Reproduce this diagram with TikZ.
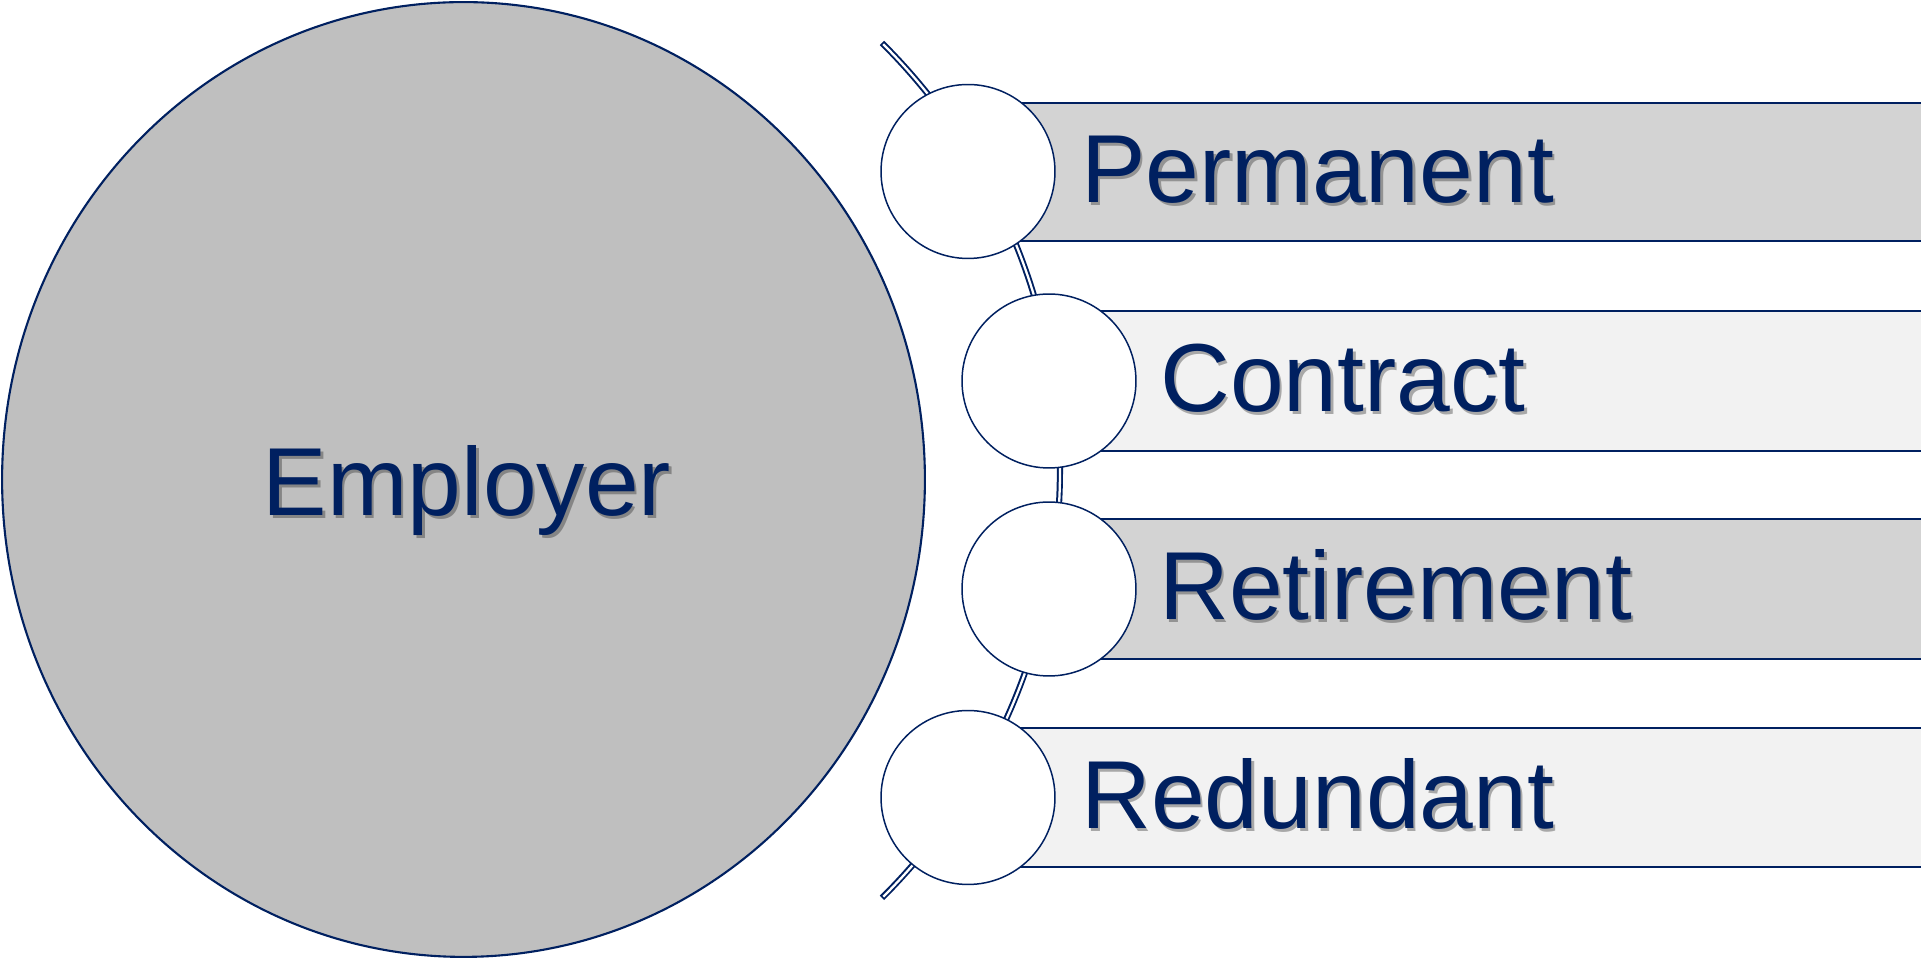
\documentclass[tikz,border=0pt]{standalone}
\usepackage{fontspec}
\setmainfont{Liberation Sans}
\usetikzlibrary{shapes.geometric,calc}
\definecolor{navy}{HTML}{002060}
\definecolor{bigfill}{HTML}{BFBFBF}
\definecolor{barA}{HTML}{D3D3D3}
\definecolor{barB}{HTML}{F2F2F2}
\begin{document}
\begin{tikzpicture}[x=0.02cm,y=0.02cm,
  lbl/.style={font=\fontsize{55}{60}\selectfont, text=navy, inner sep=0pt},
  shd/.style={font=\fontsize{55}{60}\selectfont, text=black, opacity=0.3, inner sep=0pt},
  barline/.style={draw=navy, line width=1.2pt},
  smallc/.style={circle, draw=navy, fill=white, line width=0.85pt, inner sep=0pt, minimum size=3.48cm},
]
\useasboundingbox (0,0) rectangle (1921,959);
% big ellipse
\node[ellipse, draw=navy, fill=bigfill, line width=1.2pt, minimum width=18.46cm, minimum height=19.1cm, inner sep=0pt] (emp) at (463.5,479.5) {};
% arc (closed double line)
\coordinate (aC) at (457.6,488.5);
\coordinate (aT) at (882,916);
\coordinate (aT2) at ($(aC)+(45.04:602.4)$);
\draw[navy, line width=3.5pt] (aT) arc[start angle=45.2, end angle=-45.2, radius=602.4];
\draw[white, line width=1.3pt] (aT2) arc[start angle=45.04, end angle=-45.04, radius=602.4];
% bars
\fill[barA] (968,718) rectangle (1921,856);
\draw[barline] (968,856) -- (1921,856) (968,718) -- (1921,718);
\fill[barB] (1049,508) rectangle (1921,648);
\draw[barline] (1049,648) -- (1921,648) (1049,508) -- (1921,508);
\fill[barA] (1049,300) rectangle (1921,440);
\draw[barline] (1049,440) -- (1921,440) (1049,300) -- (1921,300);
\fill[barB] (968,92) rectangle (1921,231);
\draw[barline] (968,231) -- (1921,231) (968,92) -- (1921,92);
% small circles
\node[smallc] (c1) at (968,787.5) {};
\node[smallc] (c2) at (1049,578) {};
\node[smallc] (c3) at (1049,370) {};
\node[smallc] (c4) at (968,161.5) {};
% texts with shadow
\node[shd, anchor=base] (empS) at (469.5,440.5) {Employer};
\node[lbl, anchor=base] (empT) at (467,443) {Employer};
\node[shd, anchor=base west] (t1S) at (1083.5,753.5) {Permanent};
\node[lbl, anchor=base west] (t1) at (1081,756) {Permanent};
\node[shd, anchor=base west] (t2S) at (1162.5,544.5) {Contract};
\node[lbl, anchor=base west] (t2) at (1160,547) {Contract};
\node[shd, anchor=base west] (t3S) at (1161.5,336.5) {Retirement};
\node[lbl, anchor=base west] (t3) at (1159,339) {Retirement};
\node[shd, anchor=base west] (t4S) at (1083.5,127.5) {Redundant};
\node[lbl, anchor=base west] (t4) at (1081,130) {Redundant};
\end{tikzpicture}
\end{document}
